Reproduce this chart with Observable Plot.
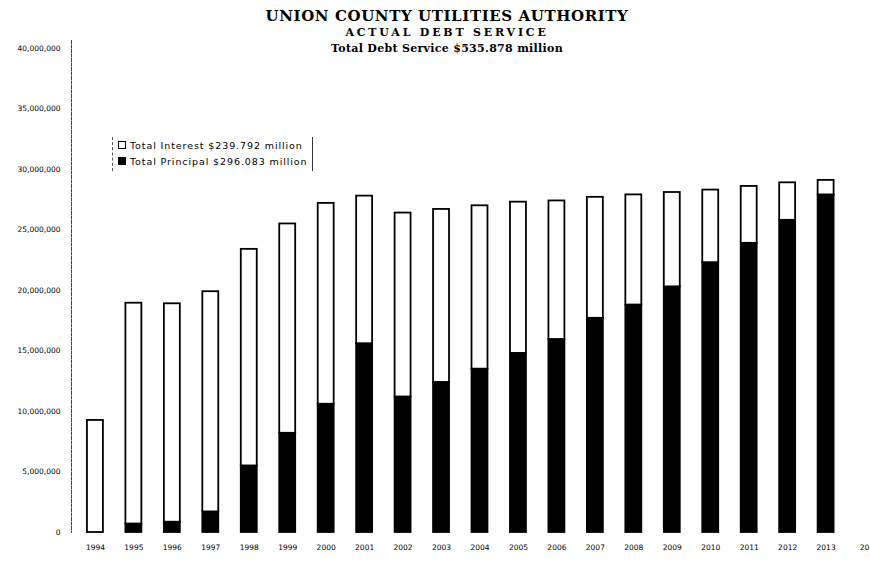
<!DOCTYPE html>
<html>
<head>
<meta charset="utf-8">
<script src="https://cdn.jsdelivr.net/npm/d3@7"></script>
<script src="https://cdn.jsdelivr.net/npm/@observablehq/plot@0.6"></script>
<style>
  html, body { margin: 0; padding: 0; background: #fff; }
  #wrap { position: relative; width: 870px; height: 570px; overflow: hidden; }
  #head { position: absolute; left: 0; top: 7px; width: 894px; text-align: center; font-family: "DejaVu Serif", serif; font-weight: bold; color: #000; pointer-events: none; }
  #head .t1 { font-size: 15px; line-height: 18px; letter-spacing: 0.6px; }
  #head .t2 { font-size: 11px; line-height: 16px; letter-spacing: 2.8px; }
  #head .t3 { font-size: 11px; line-height: 16px; letter-spacing: 0.3px; }
  #legend { position: absolute; left: 112px; top: 137px; width: 190px; padding: 0 4px 2px 5px; border-left: 1px dashed #555; border-right: 1px solid #333; font-family: "DejaVu Sans", sans-serif; font-size: 9.5px; letter-spacing: 0.9px; color: #000; }
  #legend .row { display: flex; align-items: center; height: 16px; white-space: nowrap; }
  #legend .sw { width: 8px; height: 8px; border: 1px solid #000; margin-right: 4px; box-sizing: border-box; flex: none; }
</style>
</head>
<body>
<div id="wrap">
  <div id="chart"></div>
  <div id="head">
    <div class="t1">UNION COUNTY UTILITIES AUTHORITY</div>
    <div class="t2">ACTUAL DEBT SERVICE</div>
    <div class="t3">Total Debt Service $535.878 million</div>
  </div>
  <div id="legend"></div>
</div>
<script>
// Years (2014 appears only as a truncated axis label "20" at the right edge)
const years = ["1994","1995","1996","1997","1998","1999","2000","2001","2002","2003","2004","2005","2006","2007","2008","2009","2010","2011","2012","2013","2014"];
const tickLabels = ["1994","1995","1996","1997","1998","1999","2000","2001","2002","2003","2004","2005","2006","2007","2008","2009","2010","2011","2012","2013","20"];
const dataYears = years.slice(0, 20);
// Values in millions of dollars
const principal = [0, 0.7, 0.85, 1.7, 5.5, 8.2, 10.6, 15.6, 11.2, 12.4, 13.5, 14.8, 15.95, 17.7, 18.8, 20.3, 22.3, 23.9, 25.8, 27.9];
const interest  = [9.26, 18.25, 18.05, 18.2, 17.9, 17.3, 16.6, 12.2, 15.2, 14.3, 13.5, 12.5, 11.45, 10.0, 9.1, 7.8, 6.0, 4.7, 3.1, 1.2];
const seriesNames = ["Total Principal", "Total Interest"];
const legendLabels = ["Total Interest $239.792 million", "Total Principal $296.083 million"];
const yTicks = [0, 5, 10, 15, 20, 25, 30, 35, 40];

const rows = [];
dataYears.forEach((yr, i) => {
  rows.push({year: yr, series: seriesNames[0], value: principal[i]});
  rows.push({year: yr, series: seriesNames[1], value: interest[i]});
});

const fmt = d3.format(",");
const chart = Plot.plot({
  width: 870,
  height: 570,
  marginLeft: 71,
  marginTop: 40,
  marginBottom: 38,
  marginRight: 0,
  style: {background: "white", fontFamily: "DejaVu Sans, sans-serif", color: "#000"},
  x: {type: "band", domain: years, range: [75.7, 883.3], paddingInner: 0.585, paddingOuter: 0.2925, round: false},
  y: {domain: [0, 40], range: [532, 48]},
  color: {domain: seriesNames, range: ["#000", "#fff"]},
  marks: [
    Plot.frame({anchor: "left", stroke: "#444", strokeDasharray: "3,1.5"}),
    Plot.barY(rows, {x: "year", y: "value", fill: "series", stroke: "#000", strokeWidth: 1.8}),
    Plot.axisY({ticks: yTicks, tickFormat: d => fmt(d * 1e6), tickSize: 0, tickPadding: 11, fontSize: 7.5, fill: "#000", label: null}),
    Plot.axisX({tickSize: 0, tickPadding: 12, fontSize: 7.5, fill: "#000", label: null,
      tickFormat: d => tickLabels[years.indexOf(d)]})
  ]
});
document.getElementById("chart").appendChild(chart);

// Legend
const leg = document.getElementById("legend");
const legFills = ["#fff", "#000"];
legendLabels.forEach((t, i) => {
  const r = document.createElement("div");
  r.className = "row";
  const s = document.createElement("span");
  s.className = "sw";
  s.style.background = legFills[i];
  r.appendChild(s);
  const tx = document.createElement("span");
  tx.textContent = t;
  r.appendChild(tx);
  leg.appendChild(r);
});
</script>
</body>
</html>
